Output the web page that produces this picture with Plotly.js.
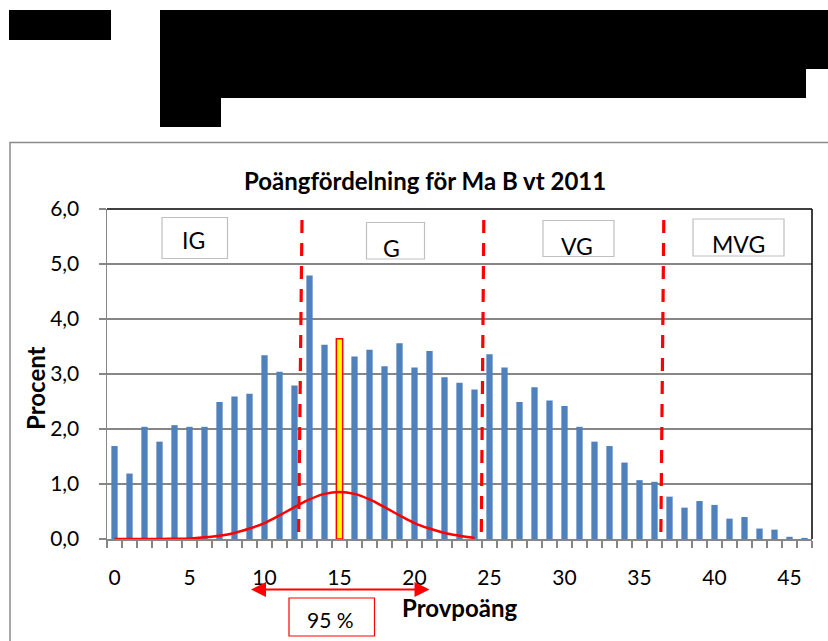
<!DOCTYPE html>
<html>
<head>
<meta charset="utf-8">
<script src="https://cdn.plot.ly/plotly-3.0.1.min.js"></script>
<style>html,body{margin:0;padding:0;background:#fff;}#chart{width:828px;height:641px;}</style>
</head>
<body>
<div id="chart"></div>
<script>
// ---- data ----
const scores = [0,1,2,3,4,5,6,7,8,9,10,11,12,13,14,15,16,17,18,19,20,21,22,23,24,25,26,27,28,29,30,31,32,33,34,35,36,37,38,39,40,41,42,43,44,45,46];
const percent = [1.69,1.19,2.04,1.77,2.07,2.04,2.04,2.49,2.59,2.64,3.34,3.04,2.79,
                 4.79,3.53,3.64,3.32,3.44,3.14,3.56,3.12,3.42,2.94,2.84,2.72,3.36,
                 3.12,2.49,2.76,2.52,2.42,2.04,1.77,1.69,1.39,1.07,1.04,0.77,0.57,0.69,0.62,0.37,0.40,0.19,0.17,0.04,0.02];
const highlightScore = 15;
const curveX = [0,1,2,3,4,5,6,7,8,9,10,11,12,13,14,15,16,17,18,19,20,21,22,23,24];
const curveY = [0,0,0,0,0.005,0.01,0.03,0.06,0.11,0.19,0.29,0.43,0.58,0.72,0.82,0.855,0.82,0.72,0.58,0.43,0.29,0.19,0.11,0.06,0.02];
const gradeLabels = ["IG","G","VG","MVG"];
const gradeLimitsTop = [12.5,24.62,36.62];
const gradeLimitsBottom = [12.27,24.45,36.42];
const intervalLow = 9, intervalHigh = 21, intervalLabel = "95 %";
const xTickVals = [0,5,10,15,20,25,30,35,40,45];
const titleText = "Poängfördelning för Ma B vt 2011";
const xTitle = "Provpoäng";
const yTitle = "Procent";

// ---- styling helpers (pixel -> paper for decorations) ----
const L = 107, R = 812, T = 209, B = 539;
const px = x => (x - L) / (R - L);
const py = y => (B - y) / (B - T);
const FONT = "Lato, 'Liberation Sans', sans-serif";
const BLUE = "#4F81BD", RED = "#FF0000";

const barColors = scores.map(s => s === highlightScore ? "#FFFF00" : BLUE);
const barLineW = scores.map(s => s === highlightScore ? 1.5 : 0);
const barLineC = scores.map(s => s === highlightScore ? RED : BLUE);

const traces = [
  {type:"bar", x:scores, y:percent, width:0.42,
   marker:{color:barColors, line:{color:barLineC, width:barLineW}}, hoverinfo:"x+y"},
  {type:"scatter", mode:"lines", x:curveX, y:curveY,
   line:{color:RED, width:2.5, shape:"spline", smoothing:1}, hoverinfo:"skip"}
];

const shapes = [];
// grade limit dashed lines
for (let i = 0; i < gradeLimitsTop.length; i++) {
  shapes.push({type:"line", xref:"x", yref:"paper", x0:gradeLimitsTop[i], x1:gradeLimitsBottom[i],
    y0:py(220), y1:0, line:{color:RED, width:3.2, dash:"13px,10px"}});
}
// plot area top/right black border
shapes.push({type:"line", xref:"paper", yref:"paper", x0:0, x1:1, y0:1, y1:1, line:{color:"#000", width:1.5}});
shapes.push({type:"line", xref:"paper", yref:"paper", x0:1, x1:1, y0:0, y1:1, line:{color:"#000", width:1.5}});
// outer chart frame
shapes.push({type:"rect", xref:"paper", yref:"paper", x0:px(10), x1:px(840), y0:py(142.5), y1:py(660),
  line:{color:"#8a8a8a", width:1.5}, fillcolor:"rgba(0,0,0,0)", layer:"below"});
// grade label boxes
const boxes = [[162,227.5,217.5,258.5],[366.5,424.5,222.5,259],[543,614,220.5,256.5],[693,784,219,256]];
boxes.forEach(b => shapes.push({type:"rect", xref:"paper", yref:"paper", x0:px(b[0]), x1:px(b[1]), y0:py(b[2]), y1:py(b[3]),
  line:{color:"#bfbfbf", width:1.2}, fillcolor:"#fff"}));
// 95 % box
shapes.push({type:"rect", xref:"paper", yref:"paper", x0:px(289), x1:px(374.5), y0:py(598), y1:py(636),
  line:{color:RED, width:1.2}, fillcolor:"#fff"});
// redaction blocks
[[9,111,10,40],[160,828,10,69],[160,806,69,98],[160,221,98,127]].forEach(b =>
  shapes.push({type:"rect", xref:"paper", yref:"paper", x0:px(b[0]), x1:px(b[1]), y0:py(b[2]), y1:py(b[3]),
    line:{width:0}, fillcolor:"#000"}));

const labelPos = [[193,240],[391,248],[577,246],[738,244]];
const annotations = gradeLabels.map((t,i) => ({text:t, xref:"paper", yref:"paper", x:px(labelPos[i][0]), y:py(labelPos[i][1]),
  showarrow:false, xanchor:"center", yanchor:"middle", font:{family:FONT, size:23, color:"#000"}}));
annotations.push({text:intervalLabel, xref:"paper", yref:"paper", x:px(330), y:py(619), showarrow:false,
  xanchor:"center", yanchor:"middle", font:{family:FONT, size:21, color:"#000"}});
annotations.push({text:"", xref:"x", yref:"paper", x:intervalHigh, y:py(589.5), axref:"x", ayref:"paper",
  ax:intervalLow, ay:py(589.5), showarrow:true, arrowside:"end+start", arrowhead:2, arrowsize:1.5,
  arrowwidth:2, arrowcolor:RED, standoff:0, startstandoff:0});
annotations.push({text:"<b>"+xTitle+"</b>", xref:"paper", yref:"paper", x:px(460), y:py(607), showarrow:false,
  xanchor:"center", yanchor:"middle", font:{family:FONT, size:24, color:"#000"}});
annotations.push({text:"<b>"+yTitle+"</b>", xref:"paper", yref:"paper", x:px(35), y:py(388), showarrow:false,
  textangle:-90, xanchor:"center", yanchor:"middle", font:{family:FONT, size:24, color:"#000"}});
annotations.push({text:"<b>"+titleText+"</b>", xref:"paper", yref:"paper", x:px(425), y:py(180), showarrow:false,
  xanchor:"center", yanchor:"middle", font:{family:FONT, size:24, color:"#000"}});

const layout = {
  width:828, height:641,
  margin:{l:L, r:828-R, t:T, b:641-B, pad:0},
  paper_bgcolor:"#fff", plot_bgcolor:"#fff",
  showlegend:false, separators:",.",
  font:{family:FONT, size:21, color:"#000"},
  xaxis:{range:[-0.5,46.5], tickmode:"array", tickvals:xTickVals, ticks:"outside", ticklen:7,
    tickcolor:"rgba(0,0,0,0)", ticklabelstandoff:12, showgrid:false, zeroline:false,
    showline:true, linecolor:"#868686", linewidth:1.5,
    minor:{tick0:-0.5, dtick:1, ticks:"outside", ticklen:7, tickcolor:"#868686", tickwidth:1.2, showgrid:false},
    tickfont:{family:FONT, size:21, color:"#000"}, fixedrange:true},
  yaxis:{range:[0,6], dtick:1, tick0:0, tickformat:".1f", ticks:"outside", ticklen:7, tickcolor:"#868686",
    tickwidth:1.2, ticklabelstandoff:15, showgrid:true, gridcolor:"#868686", gridwidth:1.2, zeroline:false,
    showline:true, linecolor:"#868686", linewidth:1.5,
    tickfont:{family:FONT, size:21, color:"#000"}, fixedrange:true},
  shapes:shapes, annotations:annotations
};

Plotly.newPlot("chart", traces, layout, {displayModeBar:false, staticPlot:true});
</script>
</body>
</html>
